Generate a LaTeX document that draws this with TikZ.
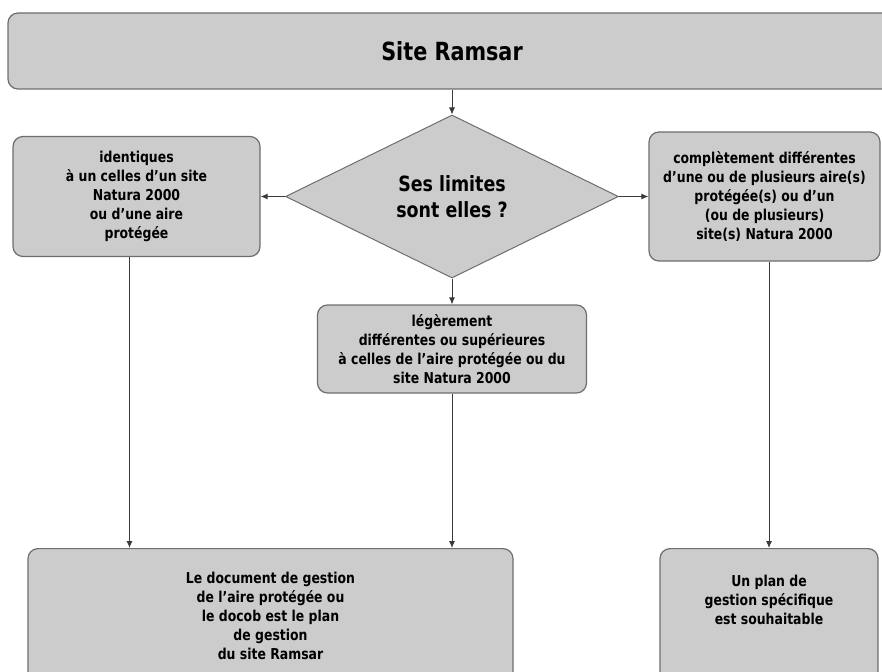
\documentclass[tikz,border=0pt]{standalone}
\usepackage{fontspec}
\setmainfont{DejaVu Sans}[FakeStretch=0.83]
\usetikzlibrary{shapes.geometric,arrows.meta}
\definecolor{boxFill}{HTML}{CCCCCC}
\definecolor{boxLine}{HTML}{6E6E6E}
\definecolor{arrowLine}{HTML}{3A3A3A}
\begin{document}
\begin{tikzpicture}
[x=1pt,y=-1pt,
  boxDecorate/.style={shape=rectangle,rounded corners=10pt,draw=boxLine,fill=boxFill,
    line width=1.2pt,align=center,inner sep=0pt,font=\bfseries\fontsize{15}{19}\selectfont},
  diamondDecorate/.style={shape=diamond,aspect=2,draw=boxLine,fill=boxFill,
    line width=1pt,align=center,inner sep=0pt,font=\bfseries\fontsize{21}{26}\selectfont},
  lineDecorate/.style={draw=arrowLine,line width=0.9pt,-{Latex[length=7pt,width=6pt]}}]
\useasboundingbox (0,0) rectangle (882,671);
%% boxes
\node (ramsar) at (452,51) [boxDecorate,minimum width=888pt,minimum height=76pt,
  font=\bfseries\fontsize{25}{30}\selectfont] {Site Ramsar};
\node (limites) at (452,196.5) [diamondDecorate,minimum width=333pt,minimum height=163pt]
  {Ses limites\\sont elles ?};
\node (identiques) at (136.5,196.5) [boxDecorate,minimum width=247pt,minimum height=120pt]
  {identiques\\à un celles d’un site\\Natura 2000\\ou d’une aire\\protégée};
\node (differentes) at (764.5,196.5) [boxDecorate,minimum width=231pt,minimum height=129pt]
  {complètement différentes\\d’une ou de plusieurs aire(s)\\protégée(s) ou d’un\\(ou de plusieurs)\\site(s) Natura 2000};
\node (legerement) at (452,349) [boxDecorate,minimum width=269pt,minimum height=88pt]
  {légèrement\\différentes ou supérieures\\à celles de l’aire protégée ou du\\site Natura 2000};
\node (docob) at (270.5,548) [boxDecorate,anchor=north,minimum width=485pt,
  inner ysep=23.5pt,text depth=70pt]
  {Le document de gestion\\de l’aire protégée ou\\le docob est le plan\\de gestion\\du site Ramsar};
\node (plan) at (769,548) [boxDecorate,anchor=north,minimum width=218pt,
  inner ysep=26.5pt,text depth=63pt]
  {Un plan de\\gestion spécifique\\est souhaitable};
%% arrows
\path
\foreach \startnode/\endnode in {ramsar/limites, limites/identiques,
  limites/differentes, limites/legerement}
{
  (\startnode) edge[lineDecorate] (\endnode)
};
\draw[lineDecorate] ([xshift=-7pt]identiques.south) -- ([xshift=-7pt]identiques.south |- docob.north);
\draw[lineDecorate] (legerement.south) -- (legerement.south |- docob.north);
\draw[lineDecorate] (differentes.south -| plan.north) -- (plan.north);
\end{tikzpicture}
\end{document}
